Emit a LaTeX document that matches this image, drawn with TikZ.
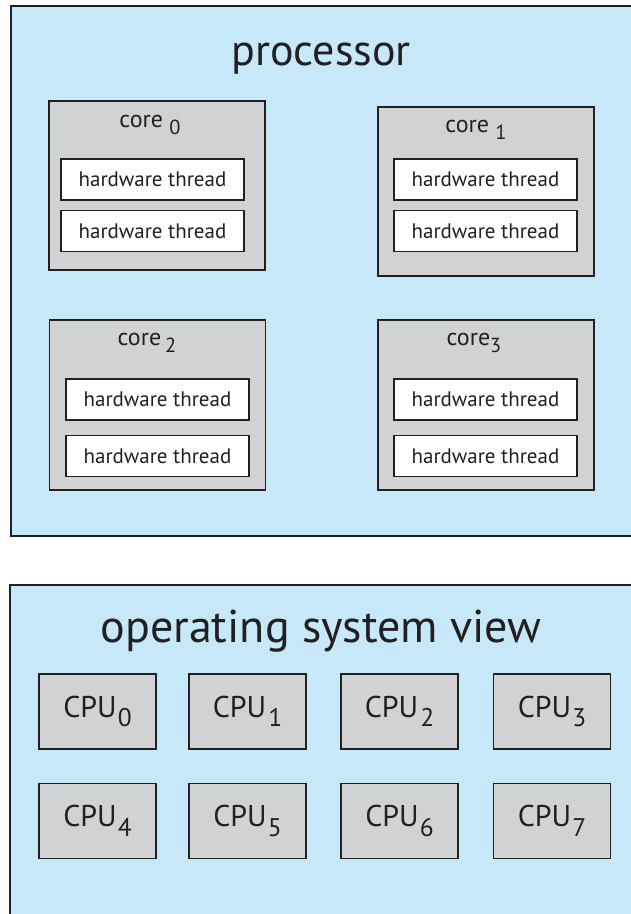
\documentclass[tikz,border=0pt]{standalone}
\usepackage{fontspec}
\setmainfont{PT Sans}
\usepackage{graphicx}
\usetikzlibrary{positioning}
\definecolor{panelblue}{HTML}{C6E8F8}
\definecolor{coregray}{HTML}{D1D2D4}
\definecolor{edgegray}{HTML}{231F20}
\newcommand{\lowidx}[1]{\raisebox{-0.32em}{\scalebox{0.85}{#1}}}
\tikzset{
	panel/.style={draw=edgegray, line width=1.5pt, fill=panelblue, rectangle, anchor=north west, inner sep=0pt},
	core/.style={draw=edgegray, line width=1.5pt, fill=coregray, rectangle, inner sep=0pt, minimum width=216pt, minimum height=169pt},
	hwthread/.style={draw=edgegray, line width=1.5pt, fill=white, rectangle, inner sep=0pt, minimum width=183pt, minimum height=41pt, text=edgegray, font=\fontsize{21}{25}\selectfont},
	cpu/.style={draw=edgegray, line width=1.5pt, fill=coregray, rectangle, inner sep=0pt, minimum width=117pt, minimum height=75pt, text=edgegray, font=\fontsize{30}{34}\selectfont},
	% labels sit on their baseline
	corelabel/.style={anchor=base, inner sep=0pt, text=edgegray, font=\fontsize{24}{28}\selectfont},
	title/.style={anchor=base, inner sep=0pt, text=edgegray, font=\fontsize{44}{50}\selectfont}
}
\begin{document}
\begin{tikzpicture}[x=1pt, y=-1pt]
			\useasboundingbox (0,0) rectangle (631,914);
			
			% processor
			\node (proc) [panel, minimum width=640pt, minimum height=530pt] at (10,5) {};
			\node (proctitle) [title] at (321,65) {processor};
			
			\node (c0) [core] at (157,185.5) {};
			\node (c1) [core] at (486,191.5) {};
			\node (c2) [core, minimum height=170pt] at (157.5,405) {};
			\node (c3) [core, minimum height=170pt] at (486,405) {};
			
			\node (l0) [corelabel] at (150,127) {core \lowidx{0}};
			\node (l1) [corelabel] at (476,132) {core \lowidx{1}};
			\node (l2) [corelabel] at (147,345) {core\,\lowidx{2}};
			\node (l3) [corelabel] at (474,345) {core\lowidx{3}};
			
			\node (t0a) [hwthread] at (152.5,179.5) {hardware thread};
			\node (t0b) [hwthread, below=9pt of t0a] {hardware thread};
			\node (t1a) [hwthread] at (485.5,179.5) {hardware thread};
			\node (t1b) [hwthread, below=9pt of t1a] {hardware thread};
			\node (t2a) [hwthread] at (157.5,399.5) {hardware thread};
			\node (t2b) [hwthread, below=14pt of t2a] {hardware thread};
			\node (t3a) [hwthread] at (485.5,399.5) {hardware thread};
			\node (t3b) [hwthread, below=14pt of t3a] {hardware thread};
			
			% operating system view
			\node (os) [panel, minimum width=640pt, minimum height=340pt] at (9,584) {};
			\node (ostitle) [title, font=\fontsize{46}{52}\selectfont] at (321,642) {operating system view};
			
			\node (cpu0) [cpu] at (97.5,711.5) {CPU\kern1pt\lowidx{0}};
			\node (cpu1) [cpu] at (247.5,711.5) {CPU\kern2pt\lowidx{1}};
			\node (cpu2) [cpu] at (399.5,711.5) {CPU\kern2pt\lowidx{2}};
			\node (cpu3) [cpu] at (552,711.5) {\raisebox{2pt}{CPU\kern1pt\lowidx{3}}};
			\node (cpu4) [cpu] at (97.5,821) {CPU\kern1pt\lowidx{4}};
			\node (cpu5) [cpu] at (247.5,821) {CPU\kern1pt\lowidx{5}};
			\node (cpu6) [cpu] at (399.5,821) {CPU\kern1pt\lowidx{6}};
			\node (cpu7) [cpu] at (552,821) {CPU\kern1pt\lowidx{7}};
		\end{tikzpicture}
\end{document}
